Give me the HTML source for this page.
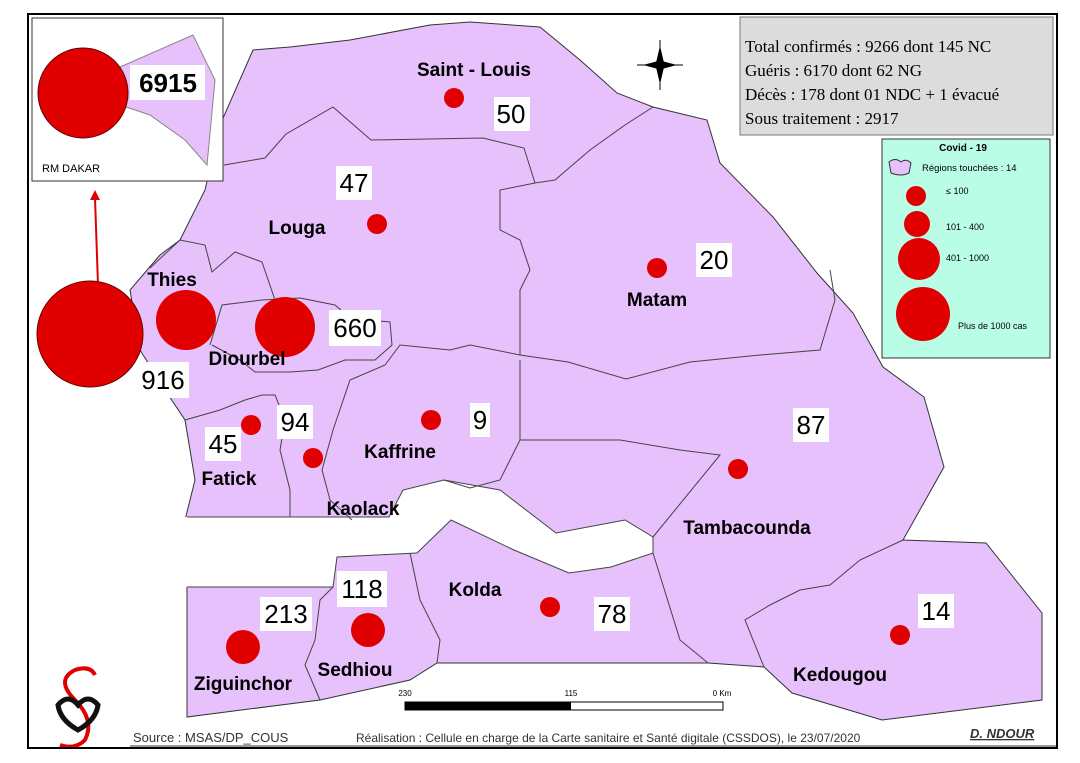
<!DOCTYPE html>
<html><head><meta charset="utf-8"><style>
body{margin:0;background:#fff;}
svg{display:block;font-family:"Liberation Sans",Arial,sans-serif;}
.lb{font-weight:bold;font-size:19px;fill:#000;text-anchor:middle;}
.nm{font-size:26px;fill:#000;text-anchor:middle;}
.st{font-family:"Liberation Serif",serif;font-size:17px;fill:#000;}
.rb{fill:none;stroke:#444;stroke-width:1;}
</style></head><body>
<svg width="1080" height="763" viewBox="0 0 1080 763">
<rect x="0" y="0" width="1080" height="763" fill="#fff"/>
<!-- country -->
<polygon fill="#e6c1fb" stroke="#333" stroke-width="1" points="253,50 290,47 350,40 430,25 470,22 540,27 580,60 617,93 653,107 707,120 720,163 773,217 817,273 853,313 883,367 924,397 944,467 903,540 986,543 1042,613 1042,700 882,720 792,693 764,667 708,663 437,663 410,680 320,700 187,717 187,587 180,560 185,520 195,480 185,420 165,390 140,350 130,290 160,255 180,240 205,190 220,125"/>
<!-- gambia -->
<polygon fill="#fff" stroke="none" points="160,517 389,517 403,490 444,480 500,490 556,533 625,520 653,537 653,553 611,567 569,573 514,550 451,520 417,553 337,557 333,587 160,587"/>
<polyline class="rb" stroke="#333" points="187,517 389,517 403,490 444,480 500,490 556,533 625,520 653,537 653,553 611,567 569,573 514,550 451,520 417,553 337,557 333,587 187,587"/>
<!-- region boundaries -->
<polyline class="rb" points="224,165 265,158 286,134 333,107 371,140 483,138 524,148 535,183 555,180 590,150 625,125 653,107"/>
<polyline class="rb" points="535,183 500,190 500,230 520,240 530,270 520,290 520,355"/>
<polyline class="rb" points="520,355 568,362 626,379 690,362 760,355 820,350 835,300 830,270"/>
<polyline class="rb" points="150,268 180,240 205,245 212,272 235,252 262,262 275,300"/>
<polyline class="rb" points="210,345 222,305 262,300 300,298 335,305 350,318 390,322 392,345 375,360 345,360 318,370 290,372 255,372 240,360 212,345"/>
<polyline class="rb" points="520,355 470,345 450,350 400,345 385,365 350,380 333,430 322,470 330,500 352,520"/>
<polyline class="rb" points="520,360 520,440 500,480 470,488 444,480"/>
<polyline class="rb" points="245,400 262,395 275,395 285,420 280,450 290,490 290,517"/>
<polyline class="rb" points="185,420 220,410 245,400"/>
<polyline class="rb" points="520,440 560,440 620,440 680,450 720,455 653,537"/>
<polyline class="rb" points="653,553 680,640 708,663"/>
<polyline class="rb" points="410,553 420,600 440,640 437,663"/>
<polyline class="rb" points="333,587 320,600 315,640 305,665 320,700"/>
<polyline class="rb" points="764,667 745,620 770,605 800,590 830,585 860,560 903,540"/>
<!-- inset -->
<rect x="32" y="18" width="191" height="163" fill="#fff" stroke="#333" stroke-width="1"/>
<polygon fill="#e6c1fb" stroke="#888" stroke-width="1" points="120,67 193,35 215,80 207,165 185,140 150,115 120,105"/>
<circle cx="83" cy="93" r="45" fill="#e00000" stroke="#600" stroke-width="1"/>
<rect x="130" y="65" width="75" height="35" fill="#fff"/>
<text x="168" y="92" font-size="26" font-weight="bold" text-anchor="middle">6915</text>
<text x="42" y="172" font-size="11">RM DAKAR</text>
<!-- arrow -->
<line x1="98" y1="285" x2="95" y2="198" stroke="#e00000" stroke-width="2"/>
<polygon points="95,190 90,200 100,200" fill="#e00000"/>
<!-- dots -->
<g fill="#e00000">
<circle cx="454" cy="98" r="10"/><circle cx="377" cy="224" r="10"/><circle cx="657" cy="268" r="10"/>
<circle cx="431" cy="420" r="10"/><circle cx="251" cy="425" r="10"/><circle cx="313" cy="458" r="10"/>
<circle cx="738" cy="469" r="10"/><circle cx="550" cy="607" r="10"/><circle cx="900" cy="635" r="10"/>
<circle cx="243" cy="647" r="17"/><circle cx="368" cy="630" r="17"/>
<circle cx="186" cy="320" r="30"/><circle cx="285" cy="327" r="30"/>
<circle cx="90" cy="334" r="53" stroke="#600" stroke-width="1"/>
</g>
<!-- labels -->
<text class="lb" x="474" y="76">Saint - Louis</text>
<text class="lb" x="297" y="234">Louga</text>
<text class="lb" x="172" y="286">Thies</text>
<text class="lb" x="247" y="365">Diourbel</text>
<text class="lb" x="657" y="306">Matam</text>
<text class="lb" x="400" y="458">Kaffrine</text>
<text class="lb" x="229" y="485">Fatick</text>
<text class="lb" x="363" y="515">Kaolack</text>
<text class="lb" x="747" y="534">Tambacounda</text>
<text class="lb" x="475" y="596">Kolda</text>
<text class="lb" x="355" y="676">Sedhiou</text>
<text class="lb" x="243" y="690">Ziguinchor</text>
<text class="lb" x="840" y="681">Kedougou</text>
<!-- numbers -->
<g fill="#fff">
<rect x="494" y="97" width="36" height="34"/><rect x="336" y="166" width="36" height="34"/>
<rect x="696" y="243" width="36" height="34"/><rect x="329" y="310" width="52" height="36"/>
<rect x="137" y="362" width="52" height="36"/><rect x="277" y="405" width="36" height="34"/>
<rect x="205" y="427" width="36" height="34"/><rect x="470" y="403" width="20" height="34"/>
<rect x="793" y="408" width="36" height="34"/><rect x="337" y="571" width="50" height="36"/>
<rect x="260" y="597" width="52" height="34"/><rect x="594" y="597" width="36" height="34"/>
<rect x="918" y="594" width="36" height="34"/>
</g>
<text class="nm" x="511" y="123">50</text><text class="nm" x="354" y="192">47</text>
<text class="nm" x="714" y="269">20</text><text class="nm" x="355" y="337">660</text>
<text class="nm" x="163" y="389">916</text><text class="nm" x="295" y="431">94</text>
<text class="nm" x="223" y="453">45</text><text class="nm" x="480" y="429">9</text>
<text class="nm" x="811" y="434">87</text><text class="nm" x="362" y="598">118</text>
<text class="nm" x="286" y="623">213</text><text class="nm" x="612" y="623">78</text>
<text class="nm" x="936" y="620">14</text>
<!-- compass -->
<g stroke="#000" stroke-width="1">
<line x1="660" y1="40" x2="660" y2="90"/><line x1="637" y1="65" x2="683" y2="65"/>
<polygon points="660,48 664,65 660,82 656,65" fill="#000"/>
<polygon points="645,65 660,61 675,65 660,69" fill="#000"/>
</g>
<!-- stats -->
<rect x="740" y="17" width="313" height="118" fill="#dcdcdc" stroke="#777" stroke-width="1"/>
<text class="st" x="745" y="52">Total confirmés : 9266  dont 145 NC</text>
<text class="st" x="745" y="76">Guéris : 6170  dont 62 NG</text>
<text class="st" x="745" y="100">Décès : 178 dont 01 NDC + 1 évacué</text>
<text class="st" x="745" y="124">Sous traitement : 2917</text>
<!-- legend -->
<rect x="882" y="139" width="168" height="219" fill="#b9fde6" stroke="#333" stroke-width="1"/>
<text x="963" y="151" font-size="10" font-weight="bold" text-anchor="middle">Covid - 19</text>
<path d="M889,162 q6,-5 12,0 q5,-4 10,1 l-2,10 q-8,4 -18,0 z" fill="#e6c1fb" stroke="#333"/>
<text x="922" y="171" font-size="9.5">Régions touchées : 14</text>
<g fill="#e00000"><circle cx="916" cy="196" r="10"/><circle cx="917" cy="224" r="13"/><circle cx="919" cy="259" r="21"/><circle cx="923" cy="314" r="27"/></g>
<text x="946" y="194" font-size="9">≤ 100</text>
<text x="946" y="230" font-size="9">101 - 400</text>
<text x="946" y="261" font-size="9">401 - 1000</text>
<text x="958" y="329" font-size="9">Plus de 1000 cas</text>
<!-- scale -->
<rect x="405" y="702" width="318" height="8" fill="#fff" stroke="#000"/>
<rect x="405" y="702" width="166" height="8" fill="#000"/>
<text x="405" y="696" font-size="8" text-anchor="middle">230</text>
<text x="571" y="696" font-size="8" text-anchor="middle">115</text>
<text x="722" y="696" font-size="8" text-anchor="middle">0 Km</text>
<!-- logo -->
<path d="M75,700 q-20,-20 0,-30 q15,-5 20,5" fill="none" stroke="#e00000" stroke-width="4"/>
<path d="M75,700 q20,20 10,40 q-10,10 -25,5" fill="none" stroke="#e00000" stroke-width="4"/>
<path d="M58,705 q10,-12 20,0 q10,-12 20,0 q-2,15 -20,25 q-18,-10 -20,-25z" fill="none" stroke="#111" stroke-width="5"/>
<!-- footer -->
<text x="133" y="742" font-size="13" fill="#333">Source : MSAS/DP_COUS</text>
<text x="356" y="742" font-size="12" fill="#333">Réalisation : Cellule en charge de la Carte sanitaire et Santé digitale (CSSDOS), le 23/07/2020</text>
<text x="970" y="738" font-size="13" font-weight="bold" font-style="italic" fill="#333" text-decoration="underline">D. NDOUR</text>
<line x1="130" y1="746" x2="1057" y2="746" stroke="#333" stroke-width="1"/>
<!-- frame -->
<rect x="28" y="14" width="1029" height="734" fill="none" stroke="#000" stroke-width="2"/>
</svg>
</body></html>
